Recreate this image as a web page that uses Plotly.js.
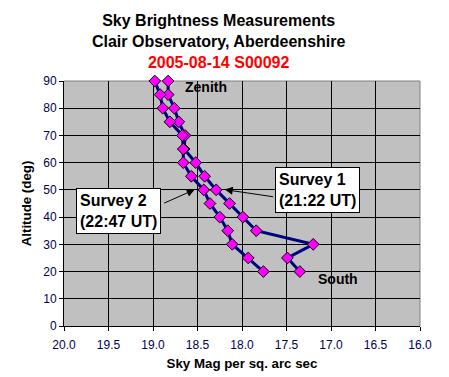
<!DOCTYPE html>
<html>
<head>
<meta charset="utf-8">
<script src="https://cdn.plot.ly/plotly-3.0.1.min.js"></script>
<style>html,body{margin:0;padding:0;background:#fff;}#chart{width:449px;height:377px;}</style>
</head>
<body>
<div id="chart"></div>
<script>
const altitudes = [90, 85, 80, 75, 70, 65, 60, 55, 50, 45, 40, 35, 30, 25, 20];
const survey1 = [18.83, 18.83, 18.76, 18.71, 18.64, 18.65, 18.52, 18.42, 18.29, 18.14, 17.99, 17.84, 17.20, 17.49, 17.35];
const survey2 = [18.98, 18.92, 18.89, 18.81, 18.67, 18.66, 18.66, 18.57, 18.43, 18.36, 18.25, 18.16, 18.11, 17.93, 17.76];
const xTicks = [20.0, 19.5, 19.0, 18.5, 18.0, 17.5, 17.0, 16.5, 16.0];
const xTickText = ["20.0", "19.5", "19.0", "18.5", "18.0", "17.5", "17.0", "16.5", "16.0"];
const yTicks = [0, 10, 20, 30, 40, 50, 60, 70, 80, 90];

const FONT = '"Liberation Sans", Arial, sans-serif';
const marker = {symbol: 'diamond', size: 9, color: '#FF00FF', line: {color: '#000000', width: 1}};
const line = {color: '#000080', width: 3};

const traces = [
  {x: survey1, y: altitudes, mode: 'lines+markers', name: 'Survey 1', line: line, marker: marker, cliponaxis: false},
  {x: survey2, y: altitudes, mode: 'lines+markers', name: 'Survey 2', line: line, marker: marker, cliponaxis: false}
];

const boxStyle = {bgcolor: '#ffffff', bordercolor: '#000000', borderwidth: 1, borderpad: 3,
  font: {family: FONT, size: 16, color: '#000000'}, showarrow: false, align: 'left'};

const layout = {
  width: 449, height: 377,
  margin: {l: 64, r: 29, t: 81, b: 51},
  paper_bgcolor: '#ffffff',
  plot_bgcolor: '#C0C0C0',
  showlegend: false,
  font: {family: FONT, color: '#000000'},
  title: {
    text: '<b>Sky Brightness Measurements<br>Clair Observatory, Aberdeenshire<br><span style="color:#FF0000">2005-08-14 S00092</span></b>',
    font: {family: FONT, size: 16, color: '#000000'},
    x: 0.487, xanchor: 'center', xref: 'container',
    y: 0.93, yanchor: 'top', yref: 'container'
  },
  xaxis: {
    range: [20.0, 16.0],
    tickvals: xTicks, ticktext: xTickText,
    showgrid: true, gridcolor: '#000000', gridwidth: 1,
    showline: true, linecolor: '#000000', linewidth: 1,
    ticks: 'outside', ticklen: 4, tickcolor: '#000000',
    ticklabelstandoff: 4,
    tickfont: {family: FONT, size: 12, color: '#000050'},
    zeroline: false,
    title: {text: '<b>Sky Mag per sq. arc sec</b>', font: {family: FONT, size: 13.3, color: '#000000'}, standoff: 7}
  },
  yaxis: {
    range: [0, 90],
    tickvals: yTicks,
    showgrid: true, gridcolor: '#000000', gridwidth: 1,
    showline: true, linecolor: '#000000', linewidth: 1,
    ticks: 'outside', ticklen: 4, tickcolor: '#000000',
    tickfont: {family: FONT, size: 12, color: '#000050'},
    zeroline: false,
    title: {text: '<b>Altitude (deg)</b>', font: {family: FONT, size: 13.3, color: '#000000'}, standoff: 8}
  },
  shapes: [
    {type: 'line', xref: 'paper', yref: 'paper', x0: 0, x1: 1, y0: 1, y1: 1, line: {color: '#808080', width: 1}, layer: 'below'},
    {type: 'line', xref: 'paper', yref: 'paper', x0: 1, x1: 1, y0: 0, y1: 1, line: {color: '#808080', width: 1}, layer: 'below'}
  ],
  annotations: [
    {x: 18.41, y: 87.9, xref: 'x', yref: 'y', text: '<b>Zenith</b>', showarrow: false,
     font: {family: FONT, size: 14, color: '#000000'}},
    {x: 16.916, y: 17.2, xref: 'x', yref: 'y', text: '<b>South</b>', showarrow: false,
     font: {family: FONT, size: 14, color: '#000000'}},
    Object.assign({x: 17.149, y: 50.0, xref: 'x', yref: 'y', text: '<b>Survey 1<br>(21:22 UT)</b>'}, boxStyle),
    Object.assign({x: 19.387, y: 42.1, xref: 'x', yref: 'y', text: '<b>Survey 2<br>(22:47 UT)</b>'}, boxStyle),
    {x: 18.194, y: 50.1, xref: 'x', yref: 'y', ax: 17.633, ay: 47.4, axref: 'x', ayref: 'y',
     text: '', showarrow: true, arrowhead: 2, arrowsize: 1.6, arrowwidth: 1, arrowcolor: '#000000'},
    {x: 18.531, y: 50.1, xref: 'x', yref: 'y', ax: 18.891, ay: 44.9, axref: 'x', ayref: 'y',
     text: '', showarrow: true, arrowhead: 2, arrowsize: 1.6, arrowwidth: 1, arrowcolor: '#000000'}
  ]
};

Plotly.newPlot('chart', traces, layout, {displayModeBar: false, staticPlot: true});
</script>
</body>
</html>
